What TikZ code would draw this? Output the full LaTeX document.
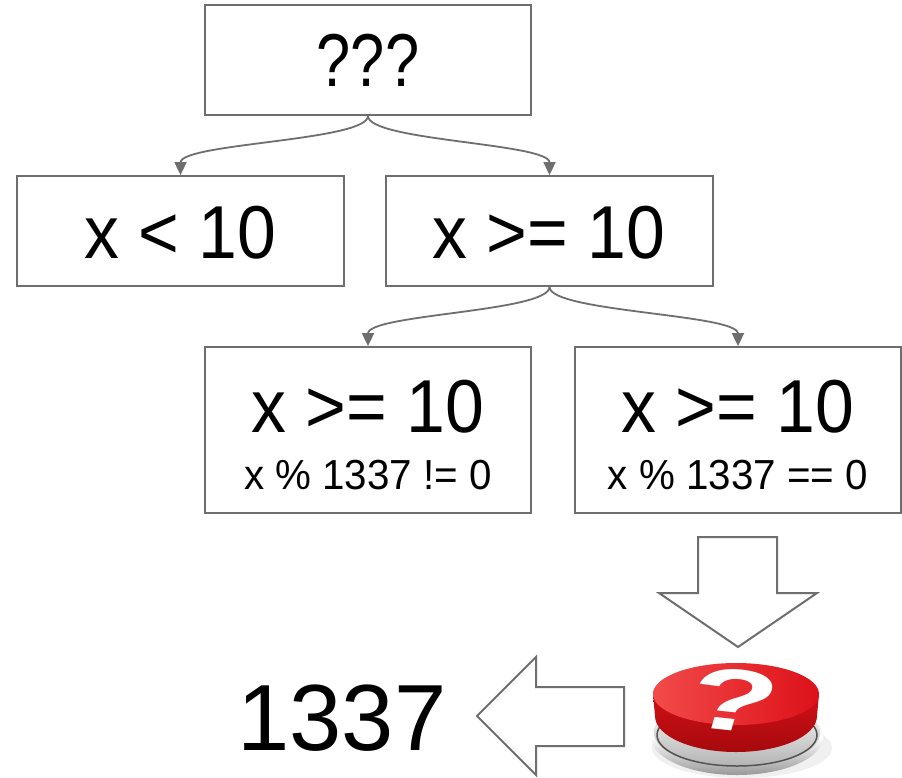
\documentclass[tikz,border=0pt]{standalone}
\usepackage{fontspec}
\setmainfont{Liberation Sans}
\usetikzlibrary{arrows.meta}
\definecolor{edgegray}{HTML}{6E6E6E}
\definecolor{btnred}{HTML}{E8121A}
\definecolor{btnlight}{HTML}{F24A4A}
\definecolor{btndark}{HTML}{B80A0E}
\tikzset{
  box/.style={draw=edgegray, line width=1.8pt, fill=white, inner sep=0pt, anchor=center},
  boxtext/.style={anchor=base, inner sep=0pt, text=black},
  bigtxt/.style={boxtext, xscale=0.93, font=\fontsize{75}{80}\selectfont},
  smalltxt/.style={boxtext, xscale=0.96, font=\fontsize{42}{46}\selectfont},
  conn/.style={draw=edgegray, line width=1.8pt, -{Triangle[length=13pt,width=12pt]}},
  blockarrow/.style={draw=edgegray, line width=2pt, fill=white, line join=miter},
}
\begin{document}
\begin{tikzpicture}[x=1pt, y=-1pt]
\useasboundingbox (0,0) rectangle (902,777);

% decision boxes
\node[box, minimum width=326pt, minimum height=110pt] (q)  at (368,60)  {};
\node[box, minimum width=327pt, minimum height=110pt] (lt) at (180.5,231) {};
\node[box, minimum width=327pt, minimum height=110pt] (ge) at (549.5,231) {};
\node[box, minimum width=326pt, minimum height=166pt] (ne) at (368,430) {};
\node[box, minimum width=326pt, minimum height=166pt] (eq) at (738,430) {};

% box labels
\node[bigtxt, xscale=0.88] (qt)  at (368,86)  {???};
\node[bigtxt] (ltt) at (180,258) {x < 10};
\node[bigtxt] (get) at (549,258) {x >= 10};
\node[bigtxt] (net) at (368,432) {x >= 10};
\node[smalltxt] (nes) at (368,489) {x \% 1337 != 0};
\node[bigtxt] (eqt) at (738,432) {x >= 10};
\node[smalltxt] (eqs) at (738,489) {x \% 1337 == 0};

% curved connectors
\draw[conn] (q.south)  .. controls +(0,25) and +(0,-32) .. (lt.north);
\draw[conn] (q.south)  .. controls +(0,25) and +(0,-32) .. (ge.north);
\draw[conn] (ge.south) .. controls +(0,25) and +(0,-32) .. (ne.north);
\draw[conn] (ge.south) .. controls +(0,25) and +(0,-32) .. (eq.north);

% block arrow pointing down to the button
\draw[blockarrow] (698,537) -- (777,537) -- (777,593) -- (817,593) -- (738,647)
  -- (659,593) -- (698,593) -- cycle;

% block arrow pointing left to the result
\draw[blockarrow] (624,687) -- (536,687) -- (536,657) -- (477,716) -- (536,775)
  -- (536,746) -- (624,746) -- cycle;

% result
\node[boxtext, font=\fontsize{94}{100}\selectfont] (res) at (342,750) {1337};

% red push button on a chrome base
\fill[black!6] (742,748) ellipse [x radius=90, y radius=30];
\shade[top color=gray!40, bottom color=gray!80, middle color=white]
  (737,737) ellipse [x radius=86, y radius=38];
\shade[top color=white, bottom color=gray!60]
  (737,733) ellipse [x radius=83, y radius=34];
\draw[gray!65!black, line width=1.5pt] (737,735) ellipse [x radius=80, y radius=31];
\shade[top color=btnred!90!black, bottom color=btndark!90!black]
  (653,694) -- (655,716) arc[start angle=180, end angle=0, x radius=81, y radius=36]
  -- (819,694) -- cycle;
\shade[left color=btnlight, right color=btnred!95!black]
  (736,694) ellipse [x radius=83, y radius=31];
\node[text=white, font=\bfseries\fontsize{104}{104}\selectfont, inner sep=0pt,
  xscale=1.38, yscale=0.84, rotate=-10] (qm) at (733,700) {?};
\end{tikzpicture}
\end{document}
